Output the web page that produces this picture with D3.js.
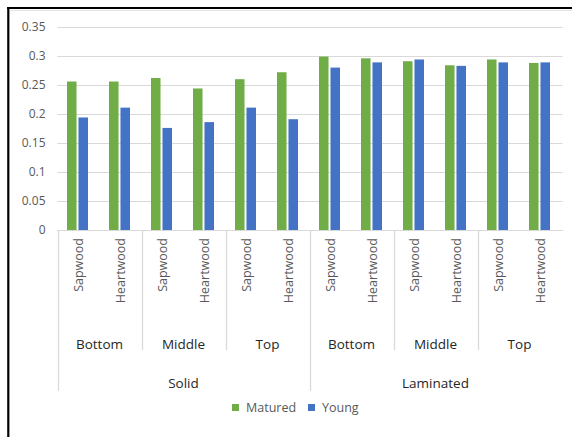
<!DOCTYPE html>
<html>
<head>
<meta charset="utf-8">
<script src="https://cdn.jsdelivr.net/npm/d3@7"></script>
<style>
  html, body { margin: 0; padding: 0; background: #fff; }
  svg { display: block; }
  text { font-family: "Open Sans", "Liberation Sans", sans-serif; }
</style>
</head>
<body>
<svg id="chart" width="572" height="437"></svg>
<script>
// Multi-level categories: construction > stem position > wood type
const constructions = ["Solid", "Laminated"];
const positions = ["Bottom", "Middle", "Top"];
const woods = ["Sapwood", "Heartwood"];

const series = ["Matured", "Young"];
const matured = [0.256, 0.256, 0.262, 0.244, 0.260, 0.272, 0.299, 0.296, 0.291, 0.284, 0.294, 0.288];
const young   = [0.194, 0.211, 0.176, 0.186, 0.211, 0.191, 0.280, 0.289, 0.294, 0.283, 0.289, 0.289];

const yTicks = [0, 0.05, 0.1, 0.15, 0.2, 0.25, 0.3, 0.35];
const yTickLabels = ["0", "0.05", "0.1", "0.15", "0.2", "0.25", "0.3", "0.35"];

const colors = { Matured: "#70AD47", Young: "#4472C4" };

// Flatten the hierarchy into leaf categories
const leaves = [];
constructions.forEach(c => positions.forEach(p => woods.forEach(w => {
  leaves.push({ key: c + "|" + p + "|" + w, construction: c, position: p, wood: w });
})));
leaves.forEach((d, i) => { d.Matured = matured[i]; d.Young = young[i]; });

const svg = d3.select("#chart");

const plot = { left: 57.5, right: 561.5, top: 27, bottom: 230 };

const x = d3.scaleBand()
  .domain(leaves.map(d => d.key))
  .range([plot.left, plot.right])
  .paddingInner(0).paddingOuter(0);

const bw = x.bandwidth();
const x1 = d3.scaleBand()
  .domain(series)
  .range([bw / 2 - 11.5, bw / 2 + 9.5])
  .paddingInner(0.17);

const y = d3.scaleLinear().domain([0, 0.35]).range([plot.bottom, plot.top]);

// Frame edges
svg.append("line").attr("x1", 10).attr("x2", 572).attr("y1", 10.5).attr("y2", 10.5)
  .attr("stroke", "#e4e4e4").attr("stroke-width", 1);
svg.append("line").attr("x1", 7).attr("x2", 572).attr("y1", 8).attr("y2", 8)
  .attr("stroke", "#000").attr("stroke-width", 2.2);
svg.append("line").attr("x1", 8.3).attr("x2", 8.3).attr("y1", 7).attr("y2", 437)
  .attr("stroke", "#000").attr("stroke-width", 2.2);

// Gridlines + y tick labels
const yAxis = d3.axisLeft(y)
  .tickValues(yTicks)
  .tickFormat((d, i) => yTickLabels[i])
  .tickSize(-(plot.right - plot.left + 1))
  .tickPadding(12);

const gy = svg.append("g")
  .attr("transform", `translate(${plot.left},0)`)
  .call(yAxis);
gy.select(".domain").remove();
gy.selectAll(".tick line").attr("stroke", "#d9d9d9").attr("stroke-width", 1);
gy.selectAll(".tick text")
  .attr("fill", "#595959")
  .style("font-size", "12px")
  .style("font-family", "'Open Sans', sans-serif");

// Bars
const groups = svg.append("g").selectAll("g")
  .data(leaves)
  .join("g")
  .attr("transform", d => `translate(${x(d.key)},0)`);

groups.selectAll("rect")
  .data(d => series.map(s => ({ s, v: d[s] })))
  .join("rect")
  .attr("x", d => x1(d.s))
  .attr("width", x1.bandwidth())
  .attr("y", d => y(d.v))
  .attr("height", d => y(0) - y(d.v))
  .attr("fill", d => colors[d.s]);

// Category axis: leaf labels (rotated)
const labelColor = "#595959";
svg.append("g").selectAll("text")
  .data(leaves)
  .join("text")
  .attr("transform", d => `translate(${x(d.key) + bw / 2 + 4.5},${plot.bottom + 8}) rotate(-90)`)
  .attr("text-anchor", "end")
  .attr("fill", labelColor)
  .style("font-size", "12.5px")
  .text(d => d.wood);

// Position-level labels and separators
const posGroups = [];
constructions.forEach(c => positions.forEach(p => {
  const members = leaves.filter(d => d.construction === c && d.position === p);
  posGroups.push({
    construction: c, position: p,
    x0: x(members[0].key),
    x1: x(members[members.length - 1].key) + bw
  });
}));

const conGroups = constructions.map(c => {
  const members = leaves.filter(d => d.construction === c);
  return { construction: c, x0: x(members[0].key), x1: x(members[members.length - 1].key) + bw };
});

const sepColor = "#d9d9d9";
const level2Bottom = 350;
const level3Bottom = 391;

// Separators between position groups (not at construction boundaries)
posGroups.forEach((g, i) => {
  const atConBoundary = conGroups.some(c => Math.abs(c.x0 - g.x0) < 0.5);
  svg.append("line")
    .attr("x1", Math.round(g.x0) + 0.5).attr("x2", Math.round(g.x0) + 0.5)
    .attr("y1", plot.bottom).attr("y2", atConBoundary ? level3Bottom : level2Bottom)
    .attr("stroke", sepColor).attr("stroke-width", 1.3);
});

svg.append("g").selectAll("text")
  .data(posGroups)
  .join("text")
  .attr("x", d => (d.x0 + d.x1) / 2)
  .attr("y", 349)
  .attr("text-anchor", "middle")
  .attr("fill", "#262626")
  .style("font-size", "13.5px")
  .text(d => d.position);

svg.append("g").selectAll("text")
  .data(conGroups)
  .join("text")
  .attr("x", d => (d.x0 + d.x1) / 2)
  .attr("y", 387.5)
  .attr("text-anchor", "middle")
  .attr("fill", "#262626")
  .style("font-size", "13.5px")
  .text(d => d.construction);

// Baseline of the category axis
svg.append("line")
  .attr("x1", plot.left).attr("x2", plot.right + 1)
  .attr("y1", y(0) + 0.5).attr("y2", y(0) + 0.5)
  .attr("stroke", "#d9d9d9").attr("stroke-width", 1);

// Legend
const legendItems = [
  { s: "Matured", x: 232 },
  { s: "Young", x: 308 }
];
const lg = svg.append("g").selectAll("g")
  .data(legendItems)
  .join("g")
  .attr("transform", d => `translate(${d.x},404)`);
lg.append("rect").attr("width", 7).attr("height", 7).attr("fill", d => colors[d.s]);
lg.append("text")
  .attr("x", 14).attr("y", 7.5)
  .attr("fill", "#595959")
  .style("font-size", "12.5px")
  .text(d => d.s);
</script>
</body>
</html>
